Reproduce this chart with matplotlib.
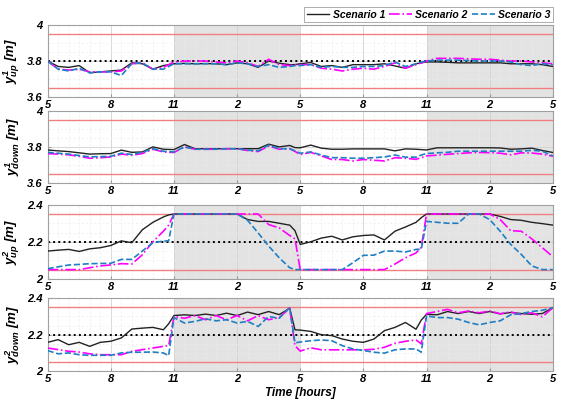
import numpy as np
import matplotlib
matplotlib.use("Agg")
from matplotlib import pyplot as plt
from matplotlib.ticker import MultipleLocator, FormatStrFormatter

plt.rcParams['font.family'] = ['Liberation Sans', 'DejaVu Sans']
# bold italic math text for the y labels
plt.rcParams['mathtext.fontset'] = 'custom'
plt.rcParams['mathtext.it'] = 'Liberation Sans:bold:italic'
plt.rcParams['mathtext.rm'] = 'Liberation Sans:bold:italic'
plt.rcParams['mathtext.bf'] = 'Liberation Sans:bold:italic'
plt.rcParams['mathtext.default'] = 'it'

# time axis in hours after 5 o'clock (0.5 h steps, plus points just before each switch)
hours = ([h * 0.5 for h in range(12)] + [5.75] +
         [6 + h * 0.5 for h in range(12)] + [11.75] +
         [12 + h * 0.5 for h in range(12)] + [17.75] +
         [18 + h * 0.5 for h in range(13)])
tick_hours = [0, 3, 6, 9, 12, 15, 18, 21, 24]
tick_labels = ['5', '8', '11', '2', '5', '8', '11', '2', '5']
shaded = [(6, 12), (18, 24)]
series_names = ['Scenario 1', 'Scenario 2', 'Scenario 3']

# y1 up
up1_s1 = [3.80, 3.77, 3.765, 3.775, 3.735, 3.74, 3.745, 3.75, 3.79, 3.785, 3.755, 3.775,
          3.78,
          3.785, 3.787, 3.785, 3.786, 3.785, 3.78, 3.79, 3.785, 3.765, 3.80, 3.788, 3.78,
          3.78,
          3.785, 3.792, 3.77, 3.775, 3.765, 3.78, 3.78, 3.78, 3.785, 3.773, 3.76, 3.785,
          3.79,
          3.795, 3.795, 3.793, 3.79, 3.79, 3.79, 3.79, 3.79, 3.785, 3.785, 3.785, 3.78, 3.77]
up1_s2 = [3.80, 3.755, 3.75, 3.755, 3.74, 3.74, 3.74, 3.745, 3.785, 3.79, 3.755, 3.765,
          3.78,
          3.795, 3.80, 3.80, 3.80, 3.795, 3.79, 3.80, 3.79, 3.77, 3.81, 3.78, 3.775,
          3.78,
          3.78, 3.78, 3.76, 3.755, 3.745, 3.755, 3.76, 3.755, 3.77, 3.79, 3.76, 3.78,
          3.79,
          3.80, 3.815, 3.815, 3.815, 3.812, 3.81, 3.81, 3.805, 3.80, 3.80, 3.795, 3.79, 3.785]
up1_s3 = [3.80, 3.755, 3.745, 3.76, 3.735, 3.74, 3.74, 3.72, 3.785, 3.79, 3.755, 3.755,
          3.77,
          3.785, 3.785, 3.785, 3.785, 3.785, 3.78, 3.79, 3.785, 3.77, 3.78, 3.765, 3.77,
          3.775,
          3.775, 3.78, 3.765, 3.77, 3.765, 3.765, 3.77, 3.77, 3.775, 3.795, 3.77, 3.785,
          3.795,
          3.80, 3.805, 3.805, 3.805, 3.803, 3.80, 3.80, 3.80, 3.795, 3.78, 3.775, 3.785, 3.78]

# y1 down
down1_s1 = [3.783, 3.778, 3.774, 3.767, 3.76, 3.762, 3.763, 3.782, 3.77, 3.772, 3.80, 3.787,
            3.786,
            3.785, 3.813, 3.79, 3.79, 3.79, 3.79, 3.79, 3.79, 3.79, 3.815, 3.80, 3.808,
            3.796,
            3.795, 3.81, 3.793, 3.787, 3.787, 3.789, 3.789, 3.789, 3.789, 3.778, 3.789, 3.787,
            3.785,
            3.783, 3.795, 3.795, 3.795, 3.795, 3.795, 3.795, 3.794, 3.787, 3.789, 3.793, 3.78, 3.769]
down1_s2 = [3.763, 3.76, 3.756, 3.748, 3.737, 3.74, 3.744, 3.76, 3.754, 3.763, 3.787, 3.772,
            3.77,
            3.769, 3.80, 3.787, 3.787, 3.787, 3.79, 3.79, 3.78, 3.774, 3.805, 3.787, 3.79,
            3.775,
            3.757, 3.77, 3.75, 3.73, 3.73, 3.722, 3.73, 3.726, 3.722, 3.74, 3.737, 3.731,
            3.74,
            3.75, 3.754, 3.759, 3.763, 3.767, 3.769, 3.768, 3.765, 3.756, 3.767, 3.766, 3.76, 3.748]
down1_s3 = [3.77, 3.765, 3.76, 3.752, 3.745, 3.746, 3.748, 3.765, 3.758, 3.77, 3.79, 3.776,
            3.774,
            3.772, 3.80, 3.787, 3.787, 3.787, 3.79, 3.79, 3.782, 3.778, 3.81, 3.79, 3.79,
            3.778,
            3.765, 3.772, 3.755, 3.74, 3.74, 3.737, 3.737, 3.74, 3.744, 3.755, 3.743, 3.743,
            3.755,
            3.763, 3.767, 3.77, 3.776, 3.776, 3.776, 3.776, 3.776, 3.776, 3.776, 3.781, 3.776, 3.75]

# y2 up
up2_s1 = [2.15, 2.155, 2.159, 2.148, 2.162, 2.168, 2.18, 2.205, 2.195, 2.265, 2.305, 2.334,
          2.345,
          2.35, 2.35, 2.35, 2.35, 2.35, 2.35, 2.35, 2.32, 2.31, 2.31, 2.30, 2.29,
          2.26,
          2.186, 2.20, 2.22, 2.23, 2.21, 2.227, 2.234, 2.237, 2.21, 2.257, 2.28, 2.305,
          2.33,
          2.35, 2.35, 2.35, 2.35, 2.35, 2.35, 2.35, 2.337, 2.32, 2.316, 2.305, 2.298, 2.29]
up2_s2 = [2.05, 2.05, 2.05, 2.05, 2.06, 2.07, 2.075, 2.082, 2.08, 2.13, 2.20, 2.257,
          2.29,
          2.35, 2.35, 2.35, 2.35, 2.35, 2.35, 2.35, 2.35, 2.35, 2.293, 2.275, 2.234,
          2.216,
          2.05, 2.05, 2.05, 2.05, 2.05, 2.05, 2.05, 2.05, 2.05, 2.08, 2.114, 2.14,
          2.17,
          2.35, 2.35, 2.35, 2.35, 2.35, 2.35, 2.35, 2.32, 2.26, 2.257, 2.216, 2.168, 2.12]
up2_s3 = [2.055, 2.065, 2.075, 2.078, 2.082, 2.083, 2.084, 2.105, 2.105, 2.15, 2.195, 2.204,
          2.205,
          2.35, 2.35, 2.35, 2.35, 2.35, 2.35, 2.35, 2.316, 2.248, 2.177, 2.114, 2.06,
          2.05,
          2.05, 2.05, 2.05, 2.05, 2.05, 2.087, 2.127, 2.128, 2.15, 2.15, 2.145, 2.159,
          2.16,
          2.31, 2.305, 2.30, 2.30, 2.35, 2.35, 2.32, 2.257, 2.186, 2.132, 2.07, 2.05, 2.05]

# y2 down
down2_s1 = [2.158, 2.173, 2.145, 2.158, 2.136, 2.158, 2.164, 2.182, 2.231, 2.236, 2.24, 2.227,
            2.26,
            2.305, 2.309, 2.305, 2.313, 2.305, 2.318, 2.305, 2.324, 2.31, 2.327, 2.31, 2.345,
            2.227,
            2.225, 2.218, 2.20, 2.195, 2.176, 2.164, 2.158, 2.176, 2.222, 2.24, 2.267, 2.23,
            2.28,
            2.312, 2.309, 2.327, 2.316, 2.327, 2.316, 2.327, 2.314, 2.322, 2.316, 2.312, 2.316, 2.348]
down2_s2 = [2.127, 2.118, 2.109, 2.105, 2.095, 2.09, 2.09, 2.09, 2.109, 2.118, 2.127, 2.136,
            2.14,
            2.30, 2.29, 2.305, 2.282, 2.305, 2.282, 2.305, 2.276, 2.305, 2.282, 2.294, 2.345,
            2.14,
            2.11, 2.128, 2.117, 2.117, 2.117, 2.117, 2.117, 2.12, 2.131, 2.153, 2.164, 2.171,
            2.15,
            2.316, 2.327, 2.339, 2.32, 2.33, 2.32, 2.33, 2.315, 2.325, 2.31, 2.32, 2.298, 2.348]
down2_s3 = [2.113, 2.095, 2.10, 2.09, 2.087, 2.087, 2.087, 2.10, 2.104, 2.104, 2.105, 2.10,
            2.085,
            2.294, 2.264, 2.273, 2.287, 2.276, 2.282, 2.264, 2.273, 2.245, 2.30, 2.29, 2.35,
            2.155,
            2.16, 2.167, 2.171, 2.167, 2.14, 2.122, 2.113, 2.104, 2.099, 2.117, 2.122, 2.122,
            2.104,
            2.303, 2.294, 2.294, 2.285, 2.267, 2.254, 2.267, 2.276, 2.309, 2.316, 2.327, 2.334, 2.348]

panels = [
    (r'$y^1_{up}$ [m]', [up1_s1, up1_s2, up1_s3], (3.6, 4.0), (3.65, 3.95), 3.8),
    (r'$y^1_{down}$ [m]', [down1_s1, down1_s2, down1_s3], (3.6, 4.0), (3.65, 3.95), None),
    (r'$y^2_{up}$ [m]', [up2_s1, up2_s2, up2_s3], (2.0, 2.4), (2.05, 2.35), 2.2),
    (r'$y^2_{down}$ [m]', [down2_s1, down2_s2, down2_s3], (2.0, 2.4), (2.05, 2.35), 2.2),
]

# [bottom, height] of each axes in figure fraction
boxes = [(0.759, 0.179), (0.546, 0.179), (0.308, 0.184), (0.079, 0.181)]

colors = ['#222222', '#ff00ff', '#1f7fc4']
styles = ['-', '-.', '--']
widths = [1.0, 1.2, 1.2]

fig = plt.figure(figsize=(5.67, 4.03), dpi=100)
for (ylab, data, ylim, limits, ref), (b, h) in zip(panels, boxes):
    ax = fig.add_axes([0.084, b, 0.891, h])
    for s0, s1 in shaded:
        ax.axvspan(s0, s1, color='#e3e3e3', lw=0, zorder=0)
    for lim in limits:
        ax.axhline(lim, color='#f08080', lw=1.0, zorder=2)
    if ref is not None:
        ax.axhline(ref, color='black', lw=1.4, ls=':', zorder=2)
    lines = []
    for vals, c, st, w, name in zip(data, colors, styles, widths, series_names):
        ln, = ax.plot(hours, vals, color=c, ls=st, lw=w, label=name, zorder=3)
        lines.append(ln)
    ax.set_xlim(0, 24)
    ax.set_ylim(*ylim)
    ax.set_xticks(tick_hours)
    ax.set_xticklabels(tick_labels)
    ax.set_yticks([ylim[0], (ylim[0] + ylim[1]) / 2, ylim[1]])
    ax.yaxis.set_major_formatter(FormatStrFormatter('%g'))
    ax.xaxis.set_minor_locator(MultipleLocator(0.5))
    ax.yaxis.set_minor_locator(MultipleLocator(0.05))
    ax.grid(which='major', color='#d2d2d2', lw=0.6, zorder=1)
    ax.grid(which='minor', color='#ebebeb', lw=0.5, ls=(0, (3, 3)), zorder=1)
    ax.set_axisbelow(True)
    ax.tick_params(which='both', direction='in', length=2.5, color='#999999',
                   top=False, right=False)
    ax.tick_params(which='minor', length=0)
    for lab in ax.get_xticklabels() + ax.get_yticklabels():
        lab.set_fontweight('bold')
        lab.set_fontstyle('italic')
        lab.set_fontsize(8)
    ax.tick_params(axis='x', pad=2)
    for sp in ax.spines.values():
        sp.set_color('#a0a0a0')
        sp.set_linewidth(0.8)
    ax.set_ylabel(ylab, fontsize=9.5, fontweight='bold', fontstyle='italic', labelpad=4)

ax.set_xlabel('Time [hours]', fontsize=8.5, fontweight='bold', fontstyle='italic', labelpad=2)

leg = fig.legend(lines, series_names, loc='upper right', bbox_to_anchor=(0.984, 0.995),
                 ncol=3, frameon=True, fancybox=False, borderpad=0.25,
                 handlelength=2.2, handletextpad=0.3, columnspacing=0.4, edgecolor='#888888',
                 prop={'weight': 'bold', 'style': 'italic', 'size': 7.5})
leg.get_frame().set_linewidth(0.6)

fig.savefig('out.png', dpi=100)
